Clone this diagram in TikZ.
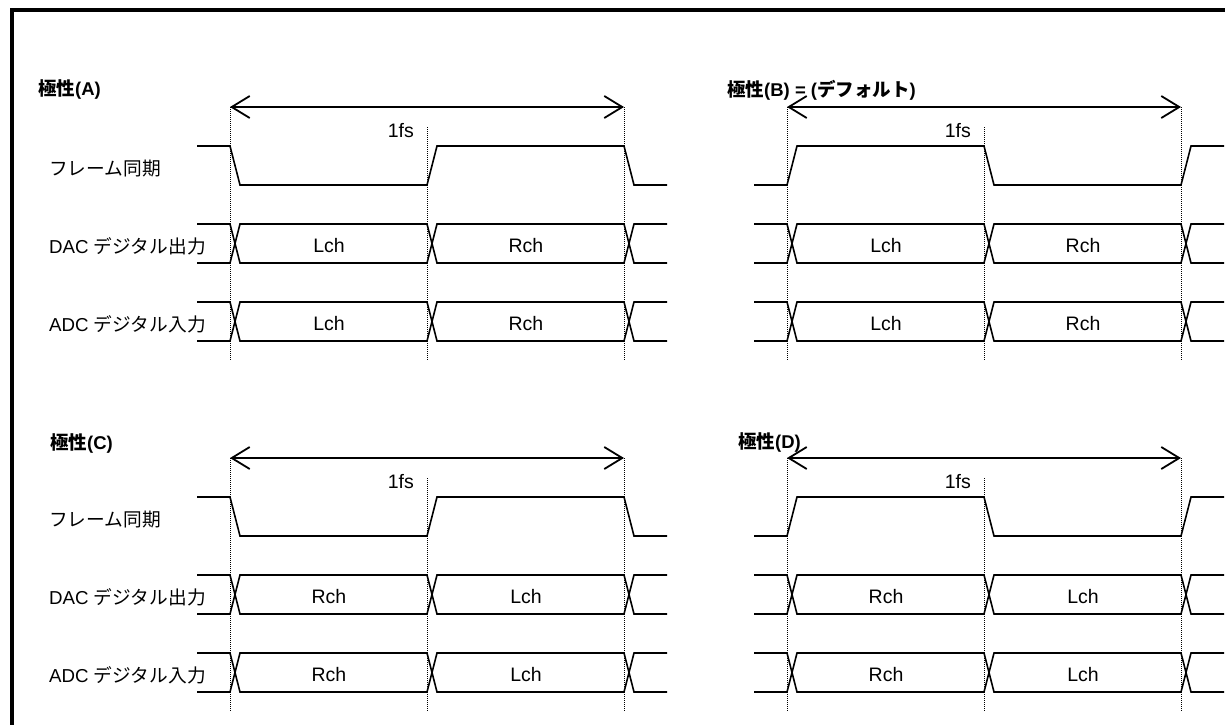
\documentclass[tikz,border=0pt]{standalone}
\usepackage{fontspec}
\setmainfont{Liberation Sans}
\newfontfamily\jp{Noto Sans CJK JP}
\usetikzlibrary{arrows.meta}

\begin{document}
\begin{tikzpicture}[x=1pt,y=-1pt]
\tikzstyle{every node} = [inner sep=0pt, font=\fontsize{19.5}{22}\selectfont]
\tikzstyle{sig} = [line width=1.6pt, line join=miter]
\tikzstyle{guide} = [densely dotted, line width=1pt]
\tikzstyle{span} = [line width=1.8pt, {Straight Barb[length=18pt,width=22pt]}-{Straight Barb[length=18pt,width=22pt]}]
\tikzstyle{title} = [anchor=west, font=\fontsize{18.5}{22}\selectfont\bfseries]
\tikzstyle{lbl} = [anchor=west, font=\fontsize{18.7}{22}\selectfont]

\useasboundingbox (0,0) rectangle (1225,724);
\clip (0,0) rectangle (1225,724);
\draw [line width=4pt] (12,10) rectangle (1260,760);

% polarity (A)
\begin{scope}
\node [title] (tA) at (38,90) {{\jp 極性}(A)};
\node [lbl] (fsA) at (49,169) {\jp フレーム同期};
\node [lbl] (dacA) at (49,246) {DAC {\jp デジタル出力}};
\node [lbl] (adcA) at (49,324) {ADC {\jp デジタル入力}};
\coordinate (A1) at (230,107);
\coordinate (A2) at (427,127);
\coordinate (A3) at (624,107);
\draw [guide] (A1) -- (230,360);
\draw [guide] (A2) -- (427,360);
\draw [guide] (A3) -- (624,360);
\draw [span] (A1) -- (A3);
\node [anchor=base east] (fA) at (414,137) {1fs};
\draw [sig] (197,146) -- (230,146) -- (240,185) -- (427,185) -- (437,146) -- (624,146) -- (634,185) -- (667,185);
\draw [sig] (197,224) -- (230,224) -- (240,263) -- (427,263) -- (437,224) -- (624,224) -- (634,263) -- (667,263);
\draw [sig] (197,263) -- (230,263) -- (240,224) -- (427,224) -- (437,263) -- (624,263) -- (634,224) -- (667,224);
\draw [sig] (197,302) -- (230,302) -- (240,341) -- (427,341) -- (437,302) -- (624,302) -- (634,341) -- (667,341);
\draw [sig] (197,341) -- (230,341) -- (240,302) -- (427,302) -- (437,341) -- (624,341) -- (634,302) -- (667,302);
\node (dA1) at (329,246) {Lch};
\node (dA2) at (526,246) {Rch};
\node (aA1) at (329,324) {Lch};
\node (aA2) at (526,324) {Rch};
\end{scope}

% polarity (B) = default
\begin{scope}[shift={(557,0)}]
\node [title] (tB) at (170,90) {{\jp 極性}(B) = ({\jp デフォルト})};
\coordinate (B1) at (230,107);
\coordinate (B2) at (427,127);
\coordinate (B3) at (624,107);
\draw [guide] (B1) -- (230,360);
\draw [guide] (B2) -- (427,360);
\draw [guide] (B3) -- (624,360);
\draw [span] (B1) -- (B3);
\node [anchor=base east] (fB) at (414,137) {1fs};
\draw [sig] (197,185) -- (230,185) -- (240,146) -- (427,146) -- (437,185) -- (624,185) -- (634,146) -- (667,146);
\draw [sig] (197,224) -- (230,224) -- (240,263) -- (427,263) -- (437,224) -- (624,224) -- (634,263) -- (667,263);
\draw [sig] (197,263) -- (230,263) -- (240,224) -- (427,224) -- (437,263) -- (624,263) -- (634,224) -- (667,224);
\draw [sig] (197,302) -- (230,302) -- (240,341) -- (427,341) -- (437,302) -- (624,302) -- (634,341) -- (667,341);
\draw [sig] (197,341) -- (230,341) -- (240,302) -- (427,302) -- (437,341) -- (624,341) -- (634,302) -- (667,302);
\node (dB1) at (329,246) {Lch};
\node (dB2) at (526,246) {Rch};
\node (aB1) at (329,324) {Lch};
\node (aB2) at (526,324) {Rch};
\end{scope}

% polarity (C)
\begin{scope}[shift={(0,351)}]
\node [title] (tC) at (50,92) {{\jp 極性}(C)};
\node [lbl] (fsC) at (49,169) {\jp フレーム同期};
\node [lbl] (dacC) at (49,246) {DAC {\jp デジタル出力}};
\node [lbl] (adcC) at (49,324) {ADC {\jp デジタル入力}};
\coordinate (C1) at (230,107);
\coordinate (C2) at (427,127);
\coordinate (C3) at (624,107);
\draw [guide] (C1) -- (230,360);
\draw [guide] (C2) -- (427,360);
\draw [guide] (C3) -- (624,360);
\draw [span] (C1) -- (C3);
\node [anchor=base east] (fC) at (414,137) {1fs};
\draw [sig] (197,146) -- (230,146) -- (240,185) -- (427,185) -- (437,146) -- (624,146) -- (634,185) -- (667,185);
\draw [sig] (197,224) -- (230,224) -- (240,263) -- (427,263) -- (437,224) -- (624,224) -- (634,263) -- (667,263);
\draw [sig] (197,263) -- (230,263) -- (240,224) -- (427,224) -- (437,263) -- (624,263) -- (634,224) -- (667,224);
\draw [sig] (197,302) -- (230,302) -- (240,341) -- (427,341) -- (437,302) -- (624,302) -- (634,341) -- (667,341);
\draw [sig] (197,341) -- (230,341) -- (240,302) -- (427,302) -- (437,341) -- (624,341) -- (634,302) -- (667,302);
\node (dC1) at (329,246) {Rch};
\node (dC2) at (526,246) {Lch};
\node (aC1) at (329,324) {Rch};
\node (aC2) at (526,324) {Lch};
\end{scope}

% polarity (D)
\begin{scope}[shift={(557,351)}]
\node [title] (tD) at (181,91) {{\jp 極性}(D)};
\coordinate (D1) at (230,107);
\coordinate (D2) at (427,127);
\coordinate (D3) at (624,107);
\draw [guide] (D1) -- (230,360);
\draw [guide] (D2) -- (427,360);
\draw [guide] (D3) -- (624,360);
\draw [span] (D1) -- (D3);
\node [anchor=base east] (fD) at (414,137) {1fs};
\draw [sig] (197,185) -- (230,185) -- (240,146) -- (427,146) -- (437,185) -- (624,185) -- (634,146) -- (667,146);
\draw [sig] (197,224) -- (230,224) -- (240,263) -- (427,263) -- (437,224) -- (624,224) -- (634,263) -- (667,263);
\draw [sig] (197,263) -- (230,263) -- (240,224) -- (427,224) -- (437,263) -- (624,263) -- (634,224) -- (667,224);
\draw [sig] (197,302) -- (230,302) -- (240,341) -- (427,341) -- (437,302) -- (624,302) -- (634,341) -- (667,341);
\draw [sig] (197,341) -- (230,341) -- (240,302) -- (427,302) -- (437,341) -- (624,341) -- (634,302) -- (667,302);
\node (dD1) at (329,246) {Rch};
\node (dD2) at (526,246) {Lch};
\node (aD1) at (329,324) {Rch};
\node (aD2) at (526,324) {Lch};
\end{scope}
\end{tikzpicture}
\end{document}
